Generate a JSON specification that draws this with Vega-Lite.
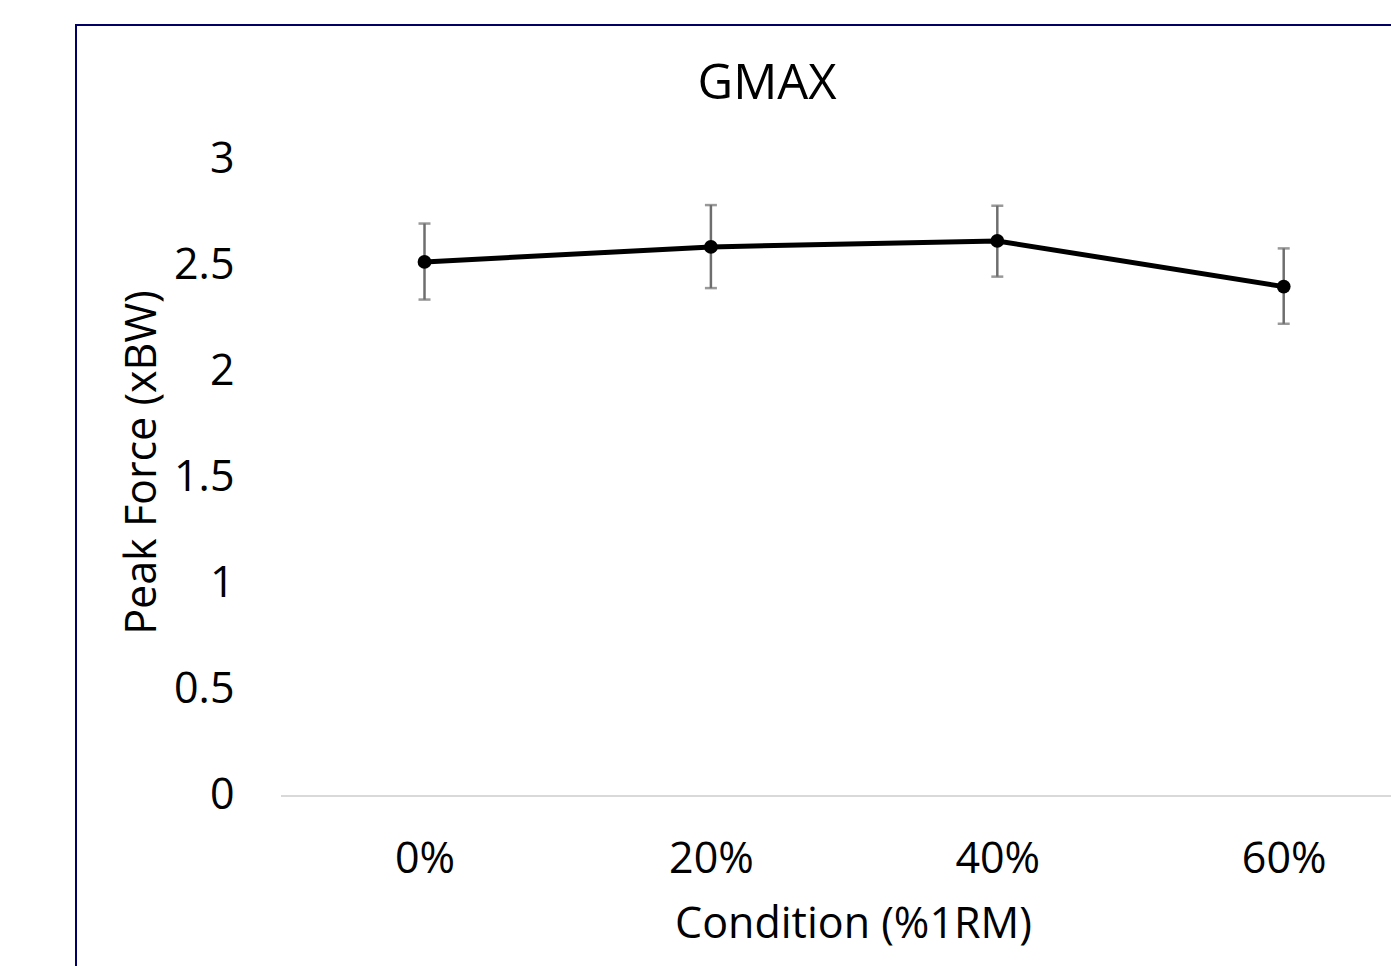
{
  "$schema": "https://vega.github.io/schema/vega-lite/v6.json",
  "autosize": {"type": "none"},
  "padding": {"left": 76, "top": 25, "right": 0, "bottom": 0},
  "width": 1330,
  "height": 955,
  "background": "white",
  "config": {
    "font": "Open Sans",
    "view": {"stroke": "#000066", "strokeWidth": 2},
    "axis": {"labelFont": "Open Sans", "titleFont": "Open Sans", "labelColor": "#000000", "titleColor": "#000000", "titleFontWeight": "normal"}
  },
  "title": {"text": "GMAX", "fontSize": 49, "font": "Open Sans", "fontWeight": "normal", "color": "#000000", "offset": -123, "baseline": "alphabetic", "dx": 26},
  "data": {"values": [
    {"cond": 0, "label": "0%", "force": 2.515, "lo": 2.338, "hi": 2.696},
    {"cond": 20, "label": "20%", "force": 2.586, "lo": 2.392, "hi": 2.783},
    {"cond": 40, "label": "40%", "force": 2.614, "lo": 2.446, "hi": 2.780},
    {"cond": 60, "label": "60%", "force": 2.399, "lo": 2.224, "hi": 2.579}
  ]},
  "layer": [
    {
      "mark": {"type": "rule", "color": "#d9d9d9", "strokeWidth": 2},
      "encoding": {
        "x": {"datum": -10, "type": "quantitative", "title": "Condition (%1RM)"},
        "x2": {"datum": 68.54},
        "y": {"datum": 0, "type": "quantitative", "title": "Peak Force (xBW)"}
      }
    },
    {
      "mark": {"type": "errorbar", "ticks": {"size": 12, "thickness": 2.5, "color": "#6e6e6e"}, "rule": {"strokeWidth": 2.5, "color": "#6e6e6e"}},
      "encoding": {
        "x": {"field": "cond", "type": "quantitative", "title": "Condition (%1RM)"},
        "y": {"field": "lo", "type": "quantitative", "title": "Peak Force (xBW)"},
        "y2": {"field": "hi"}
      }
    },
    {
      "mark": {"type": "line", "color": "#000000", "strokeWidth": 5},
      "encoding": {
        "x": {"field": "cond", "type": "quantitative", "title": "Condition (%1RM)"},
        "y": {"field": "force", "type": "quantitative", "title": "Peak Force (xBW)"}
      }
    },
    {
      "mark": {"type": "point", "filled": true, "color": "#000000", "size": 190, "opacity": 1},
      "encoding": {
        "x": {
          "field": "cond", "type": "quantitative",
          "scale": {"domain": [-24.337, 68.54], "nice": false, "zero": false},
          "axis": {
            "values": [0, 20, 40, 60], "labelExpr": "datum.value + '%'",
            "orient": "bottom", "offset": -184, "domain": false, "ticks": false, "tickSize": 0, "grid": false,
            "labelFontSize": 43, "labelPadding": 76, "labelBaseline": "alphabetic",
            "title": "Condition (%1RM)", "titleFontSize": 43, "titleX": 777, "titleY": 141, "titleBaseline": "alphabetic", "titleAlign": "center"
          }
        },
        "y": {
          "field": "force", "type": "quantitative",
          "scale": {"domain": [-0.8666, 3.6311], "nice": false, "zero": false},
          "axis": {
            "values": [0, 0.5, 1, 1.5, 2, 2.5, 3], "format": "~g",
            "orient": "left", "offset": -206, "domain": false, "ticks": false, "tickSize": 0, "grid": false,
            "labelFontSize": 43, "labelPadding": 48, "labelBaseline": "alphabetic", "labelOffset": 13,
            "title": "Peak Force (xBW)", "titleFontSize": 43, "titleAngle": -90, "titleX": -127, "titleY": 437, "titleBaseline": "alphabetic", "titleAlign": "center"
          }
        }
      }
    }
  ]
}
